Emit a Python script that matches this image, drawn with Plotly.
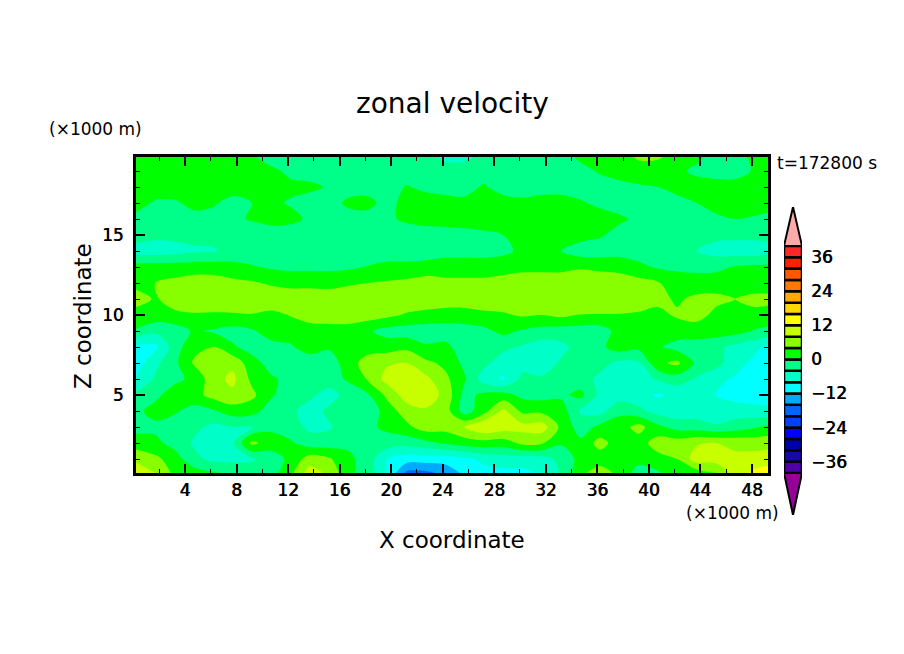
import plotly.graph_objects as go

# grid, km
x_km = [0.2, 1.7, 3.2, 4.7, 6.2, 7.7, 9.2, 10.7, 12.2, 13.7, 15.2, 16.7,
        18.2, 19.7, 21.2, 22.7, 24.2, 25.7, 27.2, 28.7, 30.2, 31.7, 33.2,
        34.7, 36.2, 37.7, 39.2, 40.7, 42.2, 43.7, 45.2, 46.7, 48.2, 49.25]
z_km = [0.125, 1, 2, 3, 4, 5, 6, 7, 8, 9, 10, 11, 12, 13, 14, 15, 16, 17, 18, 19, 19.875]

# zonal velocity (m/s), one row per z level, bottom row first
u_rows = [
    [11, 8, 3, 2, 0.5, -1, -2, -1.5, 3, 10, 7, 1, -2, -8, -17, -17, -15, -11, -9.5, -9, -9, -7.5, -3.5, 3, 6, 3, -2, -0.5, 2, 2, 3.5, 10, 13, 14],
    [7, 5, 2, -3, -5, -5, -4.5, -2, 1, 6, 4.5, 1, -2, -8, -10, -10, -10, -9, -7, -6, -6, -5.5, -3, 1.5, 2, 2, 1.5, 2.5, 4, 10, 10, 9, 9.5, 10],
    [2, 1, -1.5, -4.5, -5.5, -4.5, 5, 2, 0.5, -2, -2, -1, -1.5, -2, -2.5, -1, 0.5, 2, 2.5, 2, 5, 4.5, 0.5, 1, 5.5, 2, 2, 6, 6, 7.5, 8, 7, 6.5, 6.5],
    [-1.5, -1, -2, -3, -5, -4, -4, -1, -2, -5, -4.5, -1.5, -1, 1, 3, 6, 5.5, 8, 11.5, 10, 9.5, 10, 3, -2, 1, 2, 5.5, 1, -1.5, -2, -3.5, -2, -0.5, 1],
    [-1, 1.5, 0.5, -1.5, -0.5, 2, 1.5, -2, -3, -6, -3, -3, -3, 2, 6, 7.5, 6, -2, 2.5, 9, 3, 3, 2, -4.5, -5.5, -1, -3, -5.5, -6.5, -6, -6.5, -6, -6.5, -7],
    [-3, -1, 2, 2.5, 5.5, 7, 5, 0.5, -2.5, -3, -6, -2, -0.5, 5, 10, 10, 7, -1.5, 1, 1.5, -1, -1.5, -0.8, 1, -5, -6, -6.5, -8.5, -7, -6, -8, -9.5, -10, -10],
    [-8, -3.5, -1, 1, 6.5, 9, 3, 0.5, -1, -4, -1.5, 0.5, 4.5, 9.5, 11, 9, 5, 0.5, -6, -8.5, -3, -3.5, -2, -2, -5, -6, -6, -3.5, -2, -4.5, -7, -8.5, -10, -11],
    [-10, -5, -1, 4.5, 7, 7, 1.5, -1.5, -1.5, -2.5, -2, 2, 6, 7.5, 8, 5, 3, -1, -3, -6, -5.5, -6, -3.5, -2, -2.5, -5, -4.5, 3, 5, -1, -2.5, -6.5, -9, -10],
    [-9, -9, -2, 3, 4, 0.5, -1.5, -1.5, -0.5, 2, 0.5, 0.5, 2, 2, 3, 0.5, 1, -2, -3, -3, -4.5, -6, -5, -2.5, -1, 2, 1, 0.5, -1.5, -2, -3, -5, -7, -9],
    [-0.3, -3, -2, 0.5, -0.5, -1.5, -0.5, 2, 2, 2, 2, 2, 0.5, -1.5, -2, -2, -2, -1.5, -1, 1, -0.5, -1.5, -2, -2, -2, 1.5, 2, 2, 2, 2, 2, 1.5, -0.3, -1],
    [2, 2.5, 3, 3.5, 3.5, 3.5, 3.8, 3, 4.2, 6, 6.5, 6.5, 6, 5, 3.5, 2.5, 2, 2, 3, 3.5, 4.5, 4, 5, 3.8, 3.8, 3.8, 3.5, 3, 4.5, 5.5, 3, 3, 3, 2.5],
    [6, 3.5, 6, 7, 6.5, 7, 6.5, 6.5, 6, 6, 6, 6.5, 6.5, 6.5, 7, 7, 6.5, 6.5, 6.5, 6.5, 7, 7, 7, 7, 7, 6.5, 6, 5, 3.5, 4.8, 5, 4, 5, 5],
    [2.5, 4, 5, 6, 6, 5, 4.5, 3.5, 3, 3, 2.8, 3.5, 4, 4.5, 5, 6, 5, 5, 5, 5.5, 6, 6, 6, 7, 6.5, 6.5, 5.5, 4.3, 2.5, 2, 2, 2, 2, 2],
    [1.5, 2, 2, 2, 2, 1.5, 0.3, -0.5, -1, -1, -1, -0.7, 0.2, 1, 1, 1.5, 2, 2, 2, 2.5, 3, 3, 3, 3.5, 3, 2.5, 1, -0.5, -1, -1.2, -1, 0.3, 0.8, 1],
    [-5.5, -6, -5.5, -4.6, -4.3, -3, -2, -2.5, -2.5, -2, -2, -2, -2, -2, -2, -2, -1.5, -1.5, -1.5, -1, 1, 1.5, 0, -2, -2, -1.5, -2, -2.5, -3, -4, -5.5, -6, -6, -5.5],
    [-2.5, -3, -3, -3, -3, -3, -3, -3, -3, -3, -3, -3, -3, -3, -3, -2.5, -1.5, -1.5, -1, 0, 2, 2, 2, 1.5, 0.5, -1.5, -2.5, -3, -3, -3, -3, -3, -3, -3],
    [-1, -1.5, -1.5, -1.2, -1.5, -1, 0.5, 2, 1.5, -1, -2, -2, -2, -1, 1, 2, 1.5, 2, 2.5, 3, 3, 3, 3, 2.5, 2, 0.8, -1, -2, -2, -1.5, -0.8, 0, -0.5, -1],
    [1.5, -0.5, -0.5, 1, 0.5, -1.5, 0, 1, -0.5, -2, -2, 1, 1.5, -2, 2, 2, 1.5, 1, 0.5, 2, 1, 2, 2, 0.5, -1, -2, -2, -2, -1.5, 0, 1.5, 2, 2, 1.5],
    [2, 2, 2, 2, 2, 2, 1, 0.3, 1, 1, -0.5, -2, -2, -2, 0.3, -1, -1.5, -1.5, 0.5, -2, -2, -2, -2, -2, -2, -1.5, -0.5, 0, 1.5, 2, 2, 2, 2, 2],
    [2, 2, 2, 2, 2, 2, 2, 1, -1, -2, -2, -2, -2, -2, -2, -2, -2, -2, -2, -2, -2, -2, -2, -1.5, 0.5, 2, 2.5, 2, 1, -1, -2, -2, 0.5, 1.5],
    [2, 2, 2, 2, 2, 2, 0.5, -2, -2, -2, -2, -2, -2, -2, -2, -3, -5, -5, -3, -2, -2, -2, -2, 1, 2, 2.5, 4.5, 4.5, 2.5, 1, -1.5, -1.5, 1, 2],
]

# shading levels, m/s, and one colour per band from lowest to highest
level_min = -40
level_step = 4
band_colors = [
    "#5000aa", "#1808aa", "#0000aa", "#0000ff", "#0040ff", "#0064ff", "#00aaff",
    "#00ffff", "#00ffc8", "#00ff88", "#00ff00", "#88ff00", "#c8ff00", "#ffff00",
    "#ffd700", "#ffaa00", "#ff7800", "#ff5800", "#ff2000", "#ff2828",
]
over_color = "#ffaaaa"
under_color = "#96009b"
arrow_top = 53.7
arrow_bottom = -54.8
bar_ticks = [-36, -24, -12, 0, 12, 24, 36]

level_max = level_min + level_step * len(band_colors)
band_bases = [level_min + level_step * i for i in range(len(band_colors))]

# stepped scale, the contour fill takes the colour at the middle of each band
colorscale = []
for i, c in enumerate(band_colors):
    colorscale.append([i / len(band_colors), c])
    colorscale.append([(i + 1) / len(band_colors), c])

fig = go.Figure()

fig.add_trace(go.Contour(
    x=x_km,
    y=z_km,
    z=u_rows,
    zmin=level_min,
    zmax=level_max,
    colorscale=colorscale,
    showscale=False,
    contours=dict(coloring="fill", start=level_min, end=level_max, size=level_step),
    line=dict(width=0, smoothing=1),
    xaxis="x",
    yaxis="y",
))

# colour bar with arrow ends, on its own axes
fig.add_trace(go.Bar(
    x=[0] * len(band_colors),
    y=[level_step] * len(band_colors),
    base=band_bases,
    width=1,
    marker=dict(color=band_colors, line=dict(color="black", width=2.5)),
    showlegend=False,
    xaxis="x2",
    yaxis="y2",
))
for tip, end, color in [(arrow_top, level_max, over_color), (arrow_bottom, level_min, under_color)]:
    fig.add_trace(go.Scatter(
        x=[-0.5, 0, 0.5, -0.5],
        y=[end, tip, end, end],
        mode="lines",
        fill="toself",
        fillcolor=color,
        line=dict(color="black", width=2),
        showlegend=False,
        cliponaxis=False,
        xaxis="x2",
        yaxis="y2",
    ))

W, H = 904, 654
font_name = "DejaVu Sans"
# tick digits in the reference are drawn with a heavier pen
tick_font = dict(size=17, shadow="0.6px 0 0 black")

fig.update_layout(
    width=W,
    height=H,
    margin=dict(l=0, r=0, t=0, b=0),
    paper_bgcolor="white",
    plot_bgcolor="white",
    font=dict(family=font_name, color="black"),
    showlegend=False,
    barmode="overlay",
    xaxis=dict(
        domain=[136 / W, 768 / W],
        range=[0.2, 49.25],
        tick0=0,
        dtick=4,
        ticks="inside",
        ticklen=9,
        tickwidth=2,
        tickcolor="black",
        tickfont=tick_font,
        ticklabelstandoff=0,
        showgrid=False,
        zeroline=False,
        showline=True,
        linecolor="black",
        linewidth=3,
        mirror="allticks",
        minor=dict(ticks="inside", ticklen=4, tickwidth=1, dtick=2, tick0=0, tickcolor="black", showgrid=False),
    ),
    yaxis=dict(
        domain=[(H - 473) / H, (H - 157) / H],
        range=[0.125, 19.875],
        tick0=0,
        dtick=5,
        ticks="inside",
        ticklen=9,
        tickwidth=2,
        tickcolor="black",
        tickfont=tick_font,
        ticklabelstandoff=6,
        showgrid=False,
        zeroline=False,
        showline=True,
        linecolor="black",
        linewidth=3,
        mirror="allticks",
        minor=dict(ticks="inside", ticklen=4, tickwidth=1, dtick=1, tick0=0, tickcolor="black", showgrid=False),
    ),
    xaxis2=dict(
        domain=[784 / W, 802 / W],
        range=[-0.5, 0.5],
        anchor="y2",
        visible=False,
    ),
    yaxis2=dict(
        domain=[(H - 515) / H, (H - 207) / H],
        range=[arrow_bottom, arrow_top],
        anchor="x2",
        side="right",
        tickvals=bar_ticks,
        ticks="",
        ticklabelstandoff=8,
        tickfont=tick_font,
        showgrid=False,
        zeroline=False,
        showline=False,
    ),
)


def add_text(text, px, py, size, **kw):
    fig.add_annotation(
        text=text,
        x=px / W,
        y=1 - py / H,
        xref="paper",
        yref="paper",
        xanchor="center",
        yanchor="middle",
        showarrow=False,
        font=dict(size=size, family=font_name, color="black"),
        **kw,
    )


add_text("zonal velocity", 452, 104, 28)
add_text("X coordinate", 452, 540, 23)
add_text("Z coordinate", 83, 316, 23, textangle=-90)
add_text("(×1000 m)", 95, 129, 17)
add_text("(×1000 m)", 732, 513, 17)
add_text("t=172800 s", 827, 163, 17)

fig.write_html("out.html", config={"displayModeBar": False}, post_script='document.body.style.margin="0";')
